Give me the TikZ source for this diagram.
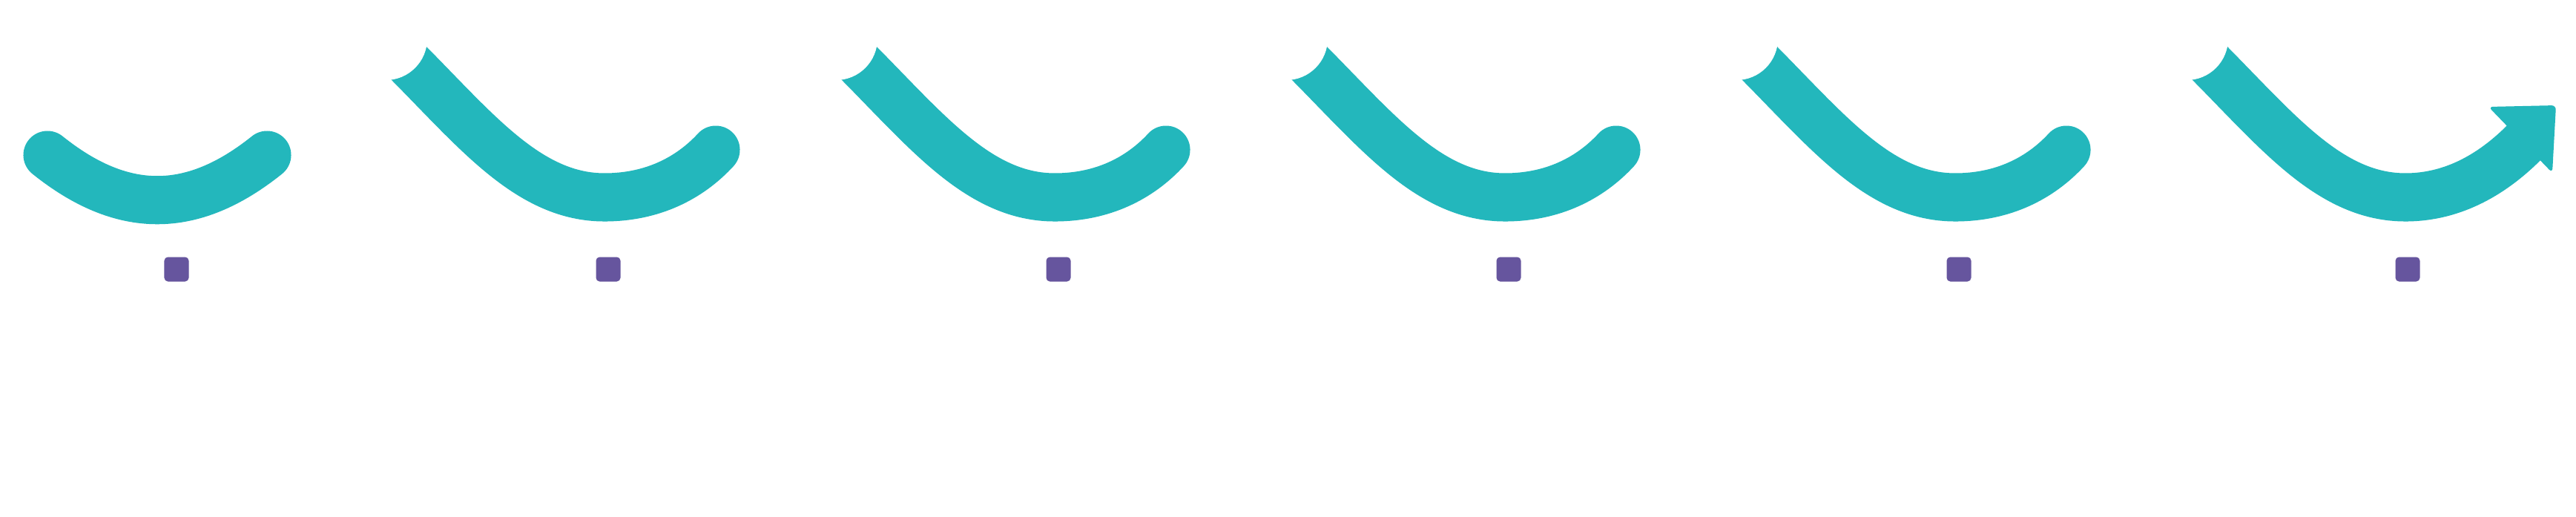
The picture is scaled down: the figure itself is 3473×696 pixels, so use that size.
\documentclass[tikz,border=0pt]{standalone}
\definecolor{tealband}{RGB}{35,183,188}
\definecolor{purpmark}{RGB}{102,85,158}
\begin{document}
\begin{tikzpicture}[x=0.01cm,y=-0.01cm,
  band/.style={draw=tealband, line width=0.65cm},
  headfill/.style={fill=tealband, rounded corners=0.06cm},
  sqmark/.style={fill=purpmark, minimum width=0.33cm, minimum height=0.33cm, inner sep=0pt, rounded corners=0.05cm},
  cutout/.style={fill=white}]
\useasboundingbox (0,0) rectangle (3473,696);
\fill[white] (0,0) rectangle (3473,696);
% segment 1
\draw[band, line cap=round] (64,209) .. controls (165,290) and (259,290) .. (360,209);
\node[sqmark] (m1) at (238,363) {};
% segments 2-5
\foreach \i in {0,1,2,3} {
  \begin{scope}[shift={(607*\i,0)}]
    \draw[band, line cap=round] (538,72) -- (552,86) .. controls (645,180) and (715,266) .. (815,266) .. controls (880,266) and (930,240) .. (965,202);
    \fill[cutout] (520,52) circle (0.56cm);
  \end{scope}
}
\node[sqmark] (m2) at (820,363) {};
\node[sqmark] (m3) at (1427,363) {};
\node[sqmark] (m4) at (2034,363) {};
\node[sqmark] (m5) at (2641,363) {};
% segment 6 with arrowhead
\begin{scope}[shift={(2428,0)}]
  \draw[band] (538,72) -- (552,86) .. controls (645,180) and (715,266) .. (815,266) .. controls (880,266) and (935,234) .. (980,187);
  \fill[cutout] (520,52) circle (0.56cm);
  \fill[headfill] (927,144) -- (1018,142) -- (1013,233) -- cycle;
\end{scope}
\node[sqmark] (m6) at (3246,363) {};
\end{tikzpicture}
\end{document}
